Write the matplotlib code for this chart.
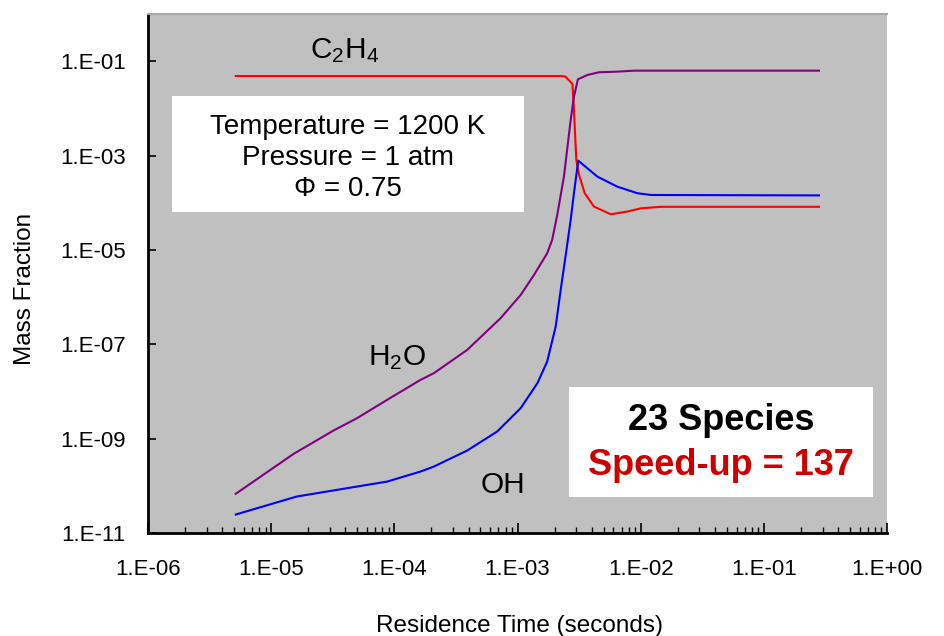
import matplotlib
matplotlib.use("Agg")
import matplotlib.pyplot as plt
from matplotlib import ticker
from matplotlib.patches import Rectangle
import numpy as np

plt.rcParams['font.family'] = ['Liberation Sans', 'DejaVu Sans']
plt.rcParams['mathtext.fontset'] = 'custom'
plt.rcParams['mathtext.rm'] = 'Liberation Sans'
plt.rcParams['mathtext.default'] = 'regular'

# --- data (residence time in s, mass fraction) ---
t_h2o = [5.16e-6, 1.52e-5, 3.21e-5, 4.98e-5, 8.73e-5, 1.63e-4, 2.09e-4,
         3.90e-4, 7.28e-4, 1.06e-3, 1.36e-3, 1.74e-3, 1.91e-3, 2.10e-3,
         2.38e-3, 2.70e-3, 2.87e-3, 3.09e-3, 3.69e-3, 4.58e-3, 6.47e-3,
         8.83e-3, 0.28]
y_h2o = [6.8e-11, 4.76e-10, 1.49e-9, 2.72e-9, 6.64e-9, 1.76e-8, 2.44e-8,
         7.6e-8, 3.57e-7, 1.11e-6, 2.95e-6, 8.5e-6, 1.63e-5, 5.5e-5,
         3.57e-4, 5.68e-3, 1.77e-2, 4.13e-2, 5.1e-2, 5.82e-2, 6.0e-2,
         6.3e-2, 6.3e-2]

t_c2h4 = [5.16e-6, 2.24e-3, 2.45e-3, 2.79e-3, 2.87e-3, 3.0e-3, 3.16e-3,
          3.51e-3, 4.17e-3, 5.70e-3, 7.80e-3, 1.0e-2, 1.46e-2, 0.28]
y_c2h4 = [4.85e-2, 4.85e-2, 4.7e-2, 3.29e-2, 9.2e-3, 8.1e-4, 3.88e-4,
          1.59e-4, 8.3e-5, 5.7e-5, 6.5e-5, 7.6e-5, 8.2e-5, 8.2e-5]

t_oh = [5.16e-6, 1.61e-5, 4.64e-5, 8.73e-5, 1.63e-4, 2.09e-4, 3.90e-4,
        6.84e-4, 1.06e-3, 1.45e-3, 1.74e-3, 2.04e-3, 2.24e-3, 2.45e-3,
        2.70e-3, 2.87e-3, 3.11e-3, 4.45e-3, 6.46e-3, 9.40e-3, 1.21e-2, 0.28]
y_oh = [2.47e-11, 5.93e-11, 9.38e-11, 1.23e-10, 2.01e-10, 2.56e-10, 5.6e-10,
        1.42e-9, 4.43e-9, 1.5e-8, 4.31e-8, 2.37e-7, 1.42e-6, 7.2e-6,
        4.33e-5, 1.59e-4, 7.8e-4, 3.57e-4, 2.19e-4, 1.59e-4, 1.46e-4, 1.43e-4]

x_ticks = [1e-6, 1e-5, 1e-4, 1e-3, 1e-2, 1e-1, 1e0]
x_labels = ['1.E-06', '1.E-05', '1.E-04', '1.E-03', '1.E-02', '1.E-01', '1.E+00']
y_ticks = [1e-11, 1e-9, 1e-7, 1e-5, 1e-3, 1e-1]
y_labels = ['1.E-11', '1.E-09', '1.E-07', '1.E-05', '1.E-03', '1.E-01']

conditions = ['Temperature = 1200 K', 'Pressure = 1 atm', 'Φ = 0.75']

fig = plt.figure(figsize=(9.44, 6.36), dpi=100)
ax = fig.add_axes([0.1568, 0.1619, 0.7829, 0.8161])
ax.set_facecolor('#C0C0C0')

ax.plot(t_c2h4, y_c2h4, color='#FF0000', lw=1.5)
ax.plot(t_h2o, y_h2o, color='#800080', lw=1.5)
ax.plot(t_oh, y_oh, color='#0000FF', lw=1.5)

ax.set_xscale('log')
ax.set_yscale('log')
ax.set_xlim(1e-6, 1e0)
ax.set_ylim(1e-11, 1e0)

ax.set_xticks(x_ticks)
ax.set_xticklabels(x_labels)
ax.xaxis.set_minor_locator(ticker.LogLocator(base=10, subs=np.arange(2, 10), numticks=20))
ax.xaxis.set_minor_formatter(ticker.NullFormatter())
ax.set_yticks(y_ticks)
ax.set_yticklabels(y_labels)
ax.yaxis.set_minor_locator(ticker.NullLocator())

ax.tick_params(axis='x', which='major', direction='in', length=7, width=1.2,
               labelsize=16, pad=19)
ax.tick_params(axis='x', which='minor', direction='in', length=4, width=1.0)
ax.tick_params(axis='y', which='major', direction='in', length=6, width=1.2,
               labelsize=16, pad=16)

for side in ['left', 'bottom']:
    ax.spines[side].set_color('black')
    ax.spines[side].set_linewidth(2)
ax.spines['top'].set_color('#A8A8A8')
ax.spines['top'].set_linewidth(1.5)
ax.spines['right'].set_visible(False)

ax.set_xlabel('Residence Time (seconds)', fontsize=17.5)
ax.xaxis.set_label_coords(0.503, -0.157)
ax.set_ylabel('Mass Fraction', fontsize=17.5)
ax.yaxis.set_label_coords(-0.151, 0.47)

# conditions box
ax.add_patch(Rectangle((0.0325, 0.6185), 0.4763, 0.2235, transform=ax.transAxes,
                       facecolor='white', edgecolor='none', zorder=3))
for i, line in enumerate(conditions):
    ax.text(0.2706, 0.782 - i * 0.0597, line, transform=ax.transAxes,
            ha='center', va='center', fontsize=20, zorder=4)

# species box
ax.add_patch(Rectangle((0.5697, 0.0694), 0.4113, 0.2119, transform=ax.transAxes,
                       facecolor='white', edgecolor='none', zorder=3))
ax.text(0.7754, 0.2177, '23 Species', transform=ax.transAxes, ha='center',
        va='center', fontsize=26, fontweight='bold', zorder=4)
ax.text(0.7754, 0.131, 'Speed-up = 137', transform=ax.transAxes, ha='center',
        va='center', fontsize=26, fontweight='bold', color='#CC0000', zorder=4)

# species labels
ax.text(0.2665, 0.915, 'C$_2$H$_4$', transform=ax.transAxes, ha='center',
        va='baseline', fontsize=21.5)
ax.text(0.337, 0.3237, 'H$_2$O', transform=ax.transAxes, ha='center',
        va='baseline', fontsize=21.5)
ax.text(0.4797, 0.0771, 'OH', transform=ax.transAxes, ha='center',
        va='baseline', fontsize=21.5)

fig.savefig('out.png', dpi=100)
